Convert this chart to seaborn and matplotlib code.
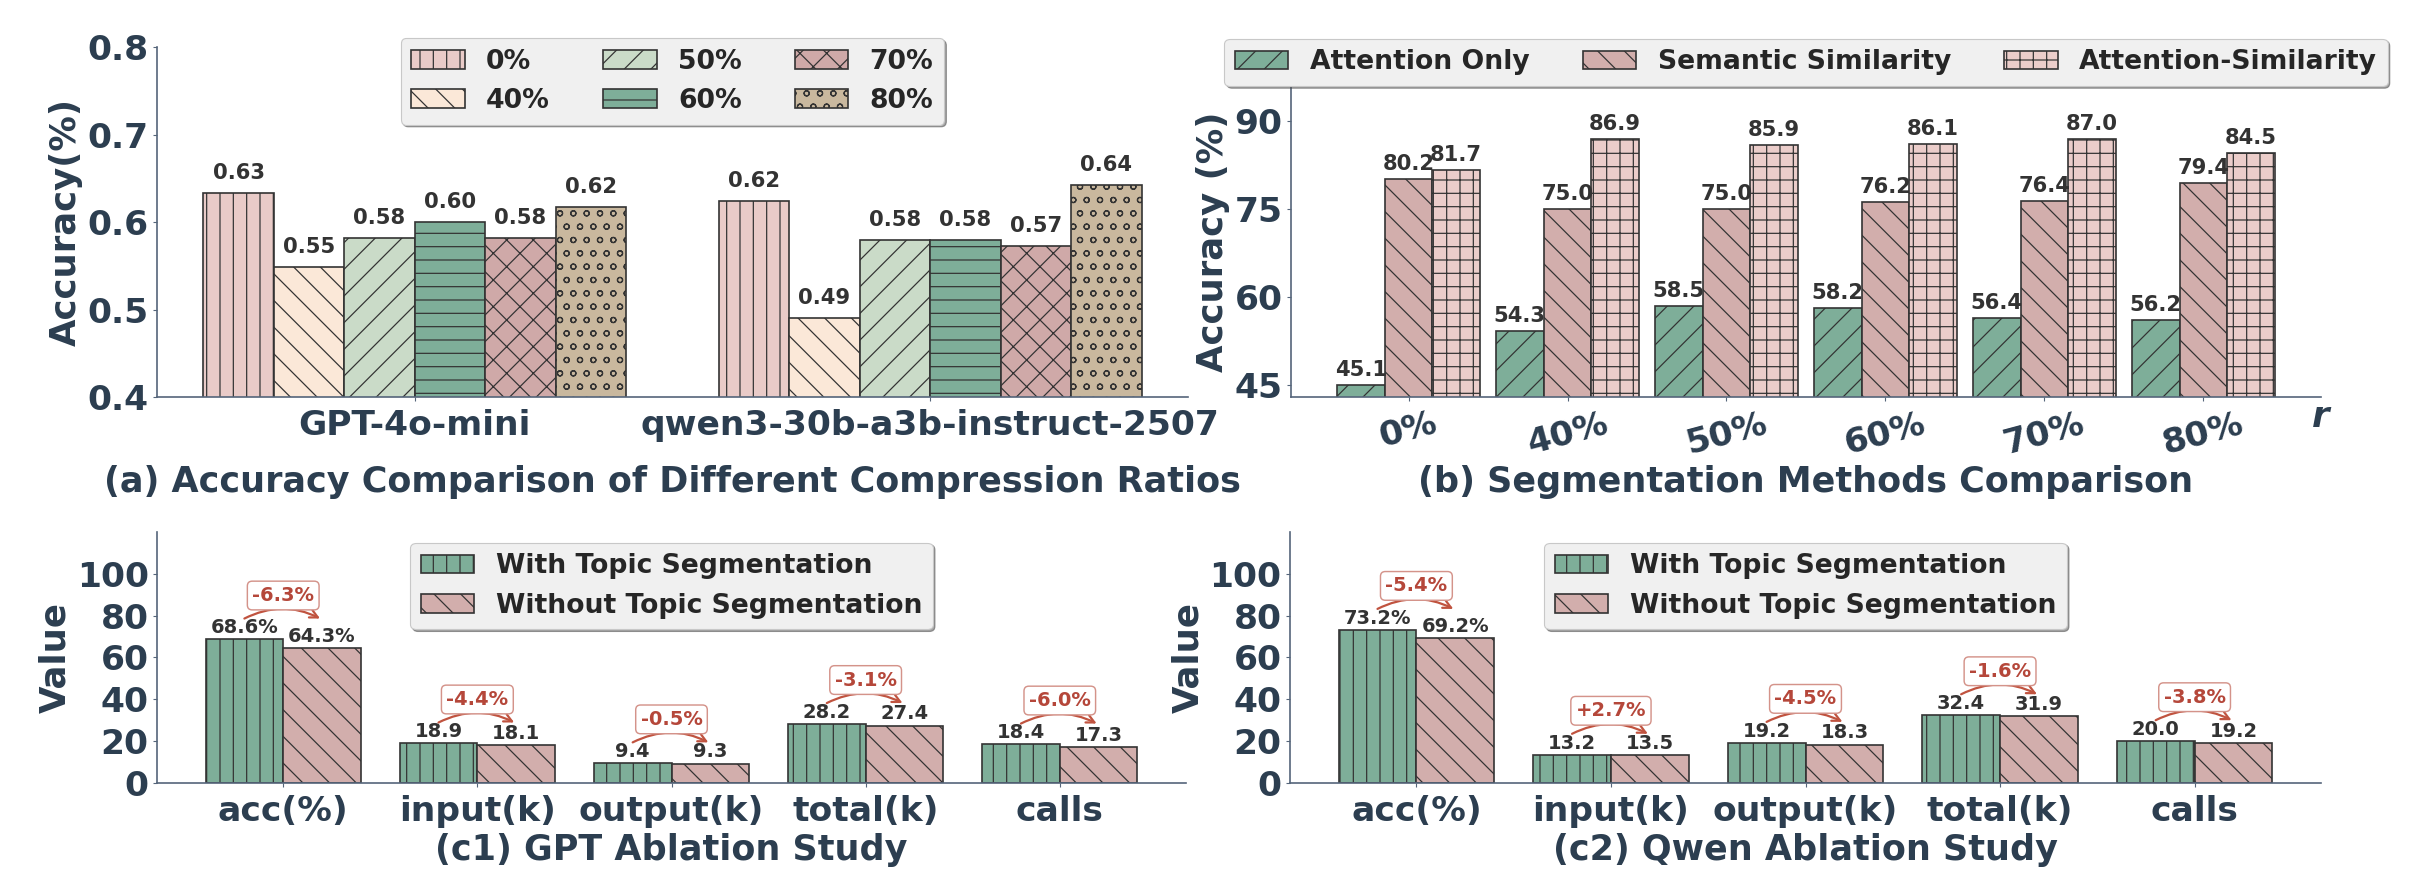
import numpy as np
import pandas as pd
import matplotlib.pyplot as plt
import seaborn as sns

# (a) accuracy for different compression ratios
models = ['GPT-4o-mini', 'qwen3-30b-a3b-instruct-2507']
ratios = ['0%', '40%', '50%', '60%', '70%', '80%']
acc_gpt = [0.633, 0.549, 0.582, 0.600, 0.582, 0.617]
acc_qwen = [0.624, 0.490, 0.580, 0.580, 0.573, 0.642]

# (b) segmentation methods
methods = ['Attention Only', 'Semantic Similarity', 'Attention-Similarity']
attn_only = [45.1, 54.3, 58.5, 58.2, 56.4, 56.2]
sem_sim = [80.2, 75.0, 75.0, 76.2, 76.4, 79.4]
attn_sim = [81.7, 86.9, 85.9, 86.1, 87.0, 84.5]

# (c1)/(c2) ablation
metrics = ['acc(%)', 'input(k)', 'output(k)', 'total(k)', 'calls']
seg_labels = ['With Topic Segmentation', 'Without Topic Segmentation']
gpt_with = [68.6, 18.9, 9.4, 28.2, 18.4]
gpt_without = [64.3, 18.1, 9.3, 27.4, 17.3]
gpt_change = ['-6.3%', '-4.4%', '-0.5%', '-3.1%', '-6.0%']
qwen_with = [73.2, 13.2, 19.2, 32.4, 20.0]
qwen_without = [69.2, 13.5, 18.3, 31.9, 19.2]
qwen_change = ['-5.4%', '+2.7%', '-4.5%', '-1.6%', '-3.8%']

colors_a = ['#e9cbc8', '#fbe8d8', '#cadbc8', '#7eae99', '#cfa9a8', '#c9b89e']
hatches_a = ['|', '\\', '/', '-', 'x', 'o']
colors_b = ['#7eae99', '#d2aeac', '#ebcdca']
hatches_b = ['/', '\\', '+']
colors_c = ['#7eae99', '#d2aeac']
hatches_c = ['|', '\\']

SLATE = '#2c3e50'
SPINE = '#55657a'
EDGE = '#333333'

sns.set_theme(style='white')
plt.rcParams['font.family'] = ['DejaVu Sans']
plt.rcParams['font.weight'] = 'bold'
plt.rcParams['axes.labelweight'] = 'bold'
plt.rcParams['hatch.linewidth'] = 1.1

fig = plt.figure(figsize=(30.15, 11.175), dpi=80)
ax_a = fig.add_axes([0.0651, 0.5559, 0.4274, 0.3915])
ax_b = fig.add_axes([0.5352, 0.5559, 0.4271, 0.3479])
ax_c1 = fig.add_axes([0.0651, 0.1242, 0.4266, 0.2808])
ax_c2 = fig.add_axes([0.5348, 0.1242, 0.4275, 0.2808])


def style_axes(ax, ylabel, pad):
    sns.despine(ax=ax)
    for s in ['left', 'bottom']:
        ax.spines[s].set_color(SPINE)
        ax.spines[s].set_linewidth(1.5)
    ax.tick_params(axis='both', labelsize=31, labelcolor=SLATE, color=SPINE,
                   length=4, width=1, left=True, bottom=True)
    ax.tick_params(axis='x', pad=pad)
    ax.set_ylabel(ylabel, fontsize=32, color=SLATE, fontweight='bold')
    ax.set_xlabel('')


def set_hatches(ax, hatches):
    for cont, h in zip(ax.containers, hatches):
        for p in cont:
            p.set_hatch(h)


def label_bars(ax, values, fmt, offset, size):
    for cont, vals in zip(ax.containers, values):
        for p, v in zip(cont, vals):
            ax.annotate(fmt(v), (p.get_x() + p.get_width() / 2, v),
                        xytext=(0, offset), textcoords='offset points',
                        ha='center', va='bottom', fontsize=size,
                        color='#333333', fontweight='bold')


legend_kw = dict(frameon=True, fancybox=True, shadow=True,
                 facecolor='#f0f0f0', edgecolor='#c8c8c8', framealpha=1)

# ---- (a)
df_a = pd.DataFrame({'model': np.repeat(models, len(ratios)),
                     'ratio': ratios * 2,
                     'acc': acc_gpt + acc_qwen})
sns.barplot(data=df_a, x='model', y='acc', hue='ratio', order=models,
            hue_order=ratios, palette=colors_a, width=0.82, saturation=1,
            edgecolor=EDGE, linewidth=1.5, errorbar=None, legend=False, ax=ax_a)
set_hatches(ax_a, hatches_a)
label_bars(ax_a, [[g, q] for g, q in zip(acc_gpt, acc_qwen)],
           lambda v: f'{v:.2f}', 9, 19)
ax_a.set_ylim(0.4, 0.8)
ax_a.set_yticks([0.4, 0.5, 0.6, 0.7, 0.8])
ax_a.set_xlim(-0.5, 1.5)
style_axes(ax_a, 'Accuracy(%)', 7)
ax_a.legend(handles=ax_a.containers, labels=ratios, ncol=3, loc='upper center',
            bbox_to_anchor=(0.5, 1.026), borderaxespad=0, fontsize=24, **legend_kw)
ax_a.text(0.5, -0.243, '(a) Accuracy Comparison of Different Compression Ratios',
          transform=ax_a.transAxes, ha='center', va='center', fontsize=31.5,
          color=SLATE, fontweight='bold')

# ---- (b)
df_b = pd.DataFrame({'r': ratios * 3,
                     'method': np.repeat(methods, len(ratios)),
                     'acc': attn_only + sem_sim + attn_sim})
sns.barplot(data=df_b, x='r', y='acc', hue='method', order=ratios,
            hue_order=methods, palette=colors_b, width=0.9, saturation=1,
            edgecolor=EDGE, linewidth=1.5, errorbar=None, legend=False, ax=ax_b)
set_hatches(ax_b, hatches_b)
label_bars(ax_b, [attn_only, sem_sim, attn_sim], lambda v: f'{v:.1f}', 4.5, 19)
ax_b.set_ylim(43, 96)
ax_b.set_yticks([45, 60, 75, 90])
ax_b.set_xlim(-0.74, 5.74)
style_axes(ax_b, 'Accuracy (%)', 5)
for t in ax_b.get_xticklabels():
    t.set_rotation(15)
ax_b.legend(handles=ax_b.containers, labels=methods, ncol=3, loc='lower center',
            bbox_to_anchor=(0.5, 1.0), borderaxespad=0, fontsize=24, **legend_kw)
ax_b.text(1.0, -0.065, 'r', transform=ax_b.transAxes, ha='center', va='center',
          fontsize=32, style='italic', fontweight='bold', color=SLATE)
ax_b.text(0.5, -0.273, '(b) Segmentation Methods Comparison',
          transform=ax_b.transAxes, ha='center', va='center', fontsize=31.5,
          color=SLATE, fontweight='bold')


# ---- (c1) / (c2)
def ablation(ax, with_vals, without_vals, changes, title):
    df = pd.DataFrame({'metric': metrics * 2,
                       'setting': np.repeat(seg_labels, len(metrics)),
                       'value': with_vals + without_vals})
    sns.barplot(data=df, x='metric', y='value', hue='setting', order=metrics,
                hue_order=seg_labels, palette=colors_c, width=0.8, saturation=1,
                edgecolor=EDGE, linewidth=1.5, errorbar=None, legend=False, ax=ax)
    set_hatches(ax, hatches_c)
    for cont, vals in zip(ax.containers, [with_vals, without_vals]):
        for k, (p, v) in enumerate(zip(cont, vals)):
            txt = f'{v:.1f}%' if k == 0 else f'{v:.1f}'
            ax.annotate(txt, (p.get_x() + p.get_width() / 2, v), xytext=(0, 2),
                        textcoords='offset points', ha='center', va='bottom',
                        fontsize=17.5, color='#333333', fontweight='bold')
    for i, (a, b, t) in enumerate(zip(with_vals, without_vals, changes)):
        h = max(a, b)
        ax.annotate('', xy=(i + 0.19, h + 10), xytext=(i - 0.2, h + 10),
                    arrowprops=dict(arrowstyle='->', color='#c0533f', lw=2,
                                    connectionstyle='arc3,rad=-0.25',
                                    shrinkA=0, shrinkB=0, mutation_scale=18))
        ax.text(i, h + 21, t, ha='center', va='center', fontsize=17.5,
                color='#b5473a', fontweight='bold',
                bbox=dict(boxstyle='round,pad=0.25', fc='white', ec='#d4938a', lw=1.3))
    ax.set_ylim(0, 120)
    ax.set_yticks([0, 20, 40, 60, 80, 100])
    ax.set_xlim(-0.65, 4.65)
    style_axes(ax, 'Value', 7)
    ax.legend(handles=ax.containers, labels=seg_labels, loc='upper center',
              bbox_to_anchor=(0.5, 1.0), borderaxespad=0.4, fontsize=24, **legend_kw)
    ax.text(0.5, -0.267, title, transform=ax.transAxes, ha='center', va='center',
            fontsize=31.5, color=SLATE, fontweight='bold')


ablation(ax_c1, gpt_with, gpt_without, gpt_change, '(c1) GPT Ablation Study')
ablation(ax_c2, qwen_with, qwen_without, qwen_change, '(c2) Qwen Ablation Study')

fig.savefig('out.png', dpi=80)
